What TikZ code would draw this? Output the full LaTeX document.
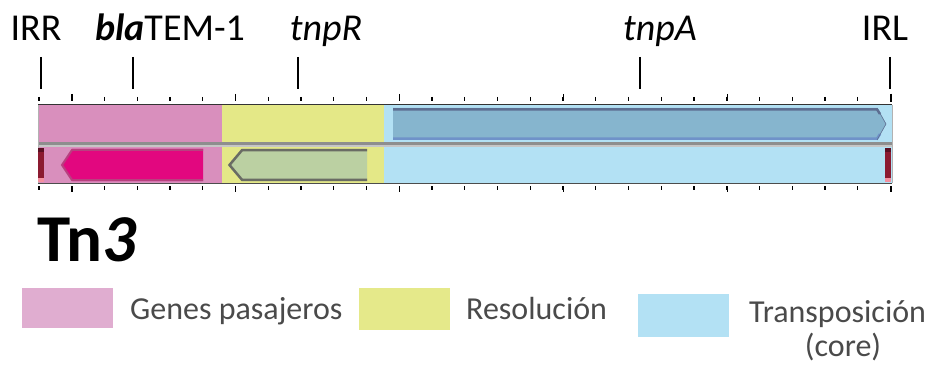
\documentclass[tikz,border=0pt]{standalone}
\usepackage{fontspec}
\setmainfont{Carlito}
\definecolor{pinkreg}{HTML}{D98FBD}
\definecolor{yellreg}{HTML}{E4E887}
\definecolor{bluereg}{HTML}{B3E1F4}
\definecolor{tnpAcol}{HTML}{86B5CE}
\definecolor{tnpAtop}{HTML}{5D6E91}
\definecolor{tnpAbot}{HTML}{6F92C9}
\definecolor{blacol}{HTML}{E2077F}
\definecolor{blaedge}{HTML}{B8407F}
\definecolor{tnpRcol}{HTML}{BBD0A2}
\definecolor{tnpRedge}{HTML}{6A6C64}
\definecolor{sepgray}{HTML}{8E8E8E}
\definecolor{irdark}{HTML}{5A0F22}
\definecolor{irmid}{HTML}{8B1A30}
\definecolor{irpink}{HTML}{F4909F}
\definecolor{legpink}{HTML}{E0ADD0}
\definecolor{legyell}{HTML}{E5E98A}
\definecolor{legblue}{HTML}{B3E1F4}
\definecolor{legtext}{HTML}{4A4A4A}
\tikzset{
  toplabel/.style={anchor=base, inner sep=0pt, font=\fontsize{38}{42}\selectfont},
  legtxt/.style={anchor=base west, inner sep=0pt, text=legtext, font=\fontsize{32}{36}\selectfont},
  marker/.style={line width=1.2pt, black},
  minortick/.style={line width=1.4pt, black},
  majortick/.style={line width=1.6pt, black},
}
\begin{document}
\begin{tikzpicture}[x=1pt,y=-1pt]
\useasboundingbox (0,0) rectangle (933,366);
% top labels
\node[toplabel] (irr) at (36,41) {IRR};
\node[toplabel] (bla) at (170,41) {\textbf{\textit{bla}}TEM-1};
\node[toplabel] (tnpr) at (326,41) {\textit{tnpR}};
\node[toplabel] (tnpa) at (660,41) {\textit{tnpA}};
\node[toplabel] (irl) at (885,41) {IRL};
% marker lines
\foreach \x/\n in {41/a,133/b,298/c,640/d,890/e}{
  \coordinate (m\n1) at (\x,57);
  \coordinate (m\n2) at (\x,89);
  \draw[marker] (m\n1) -- (m\n2);
}
% ruler ticks
\foreach \i in {0,...,26}{
  \pgfmathsetmacro{\xx}{39+32.75*\i}
  \draw[minortick] (\xx,97) -- (\xx,101);
  \draw[minortick] (\xx,186) -- (\xx,190);
}
\foreach \i in {0,...,5}{
  \pgfmathsetmacro{\xx}{71.7+163.9*\i}
  \draw[majortick] (\xx,94) -- (\xx,101);
  \draw[majortick] (\xx,186) -- (\xx,192);
}
\draw[line width=2.5pt] (891,94) -- (891,102);
\draw[line width=2.5pt] (891,186) -- (891,192);
% region backgrounds
\fill[pinkreg] (38,105) rectangle (222,183);
\fill[yellreg] (222,105) rectangle (384,183);
\fill[bluereg] (384,105) rectangle (892,183);
% separator
\fill[sepgray] (38,142) rectangle (892,145.5);
\fill[gray!45] (38,145.5) rectangle (892,147);
% bar outline
\draw[line width=1pt, black!80] (38,105) -- (892,105);
\draw[line width=1pt, black!70] (38,183) -- (892,183);
\draw[line width=0.6pt, gray!60] (38,105) -- (38,183);
\draw[line width=0.6pt, gray!60] (892,105) -- (892,183);
% tnpA arrow
\fill[tnpAcol] (393,108) -- (877,108) -- (886,124) -- (877,140) -- (393,140) -- cycle;
\draw[tnpAtop, line width=2.5pt] (393,109.3) -- (877,109.3) -- (880,114);
\draw[tnpAbot, line width=2.5pt] (393,138.7) -- (877,138.7) -- (880,134);
\draw[tnpAtop, line width=0.6pt] (877,108) -- (886,124) -- (877,140);
% bla arrow
\fill[blacol] (203,149) -- (72,149) -- (62,165) -- (72,181) -- (203,181) -- cycle;
\draw[blaedge, line width=2pt] (203,150) -- (72,150) -- (62,165) -- (72,180) -- (203,180);
% tnpR arrow
\fill[tnpRcol] (367,149) -- (242,149) -- (228,165) -- (242,181) -- (367,181) -- cycle;
\draw[tnpRedge, line width=2.5pt] (367,150.2) -- (242,150.2) -- (229.5,165) -- (242,179.8) -- (367,179.8);
% IR end boxes
\foreach \x/\n in {38/l,885/r}{
  \fill[irdark] (\x,148) rectangle ++(6,4);
  \fill[irmid] (\x,152) rectangle ++(6,26);
  \fill[irpink] (\x,178) rectangle ++(6,4);
}
% Tn3 title
\node[anchor=base west, inner sep=0pt, font=\fontsize{67}{72}\selectfont\bfseries] (title) at (37,261) {Tn\textit{3}};
% legend
\fill[legpink] (22,288) rectangle (113,328);
\node[legtxt] (leg1) at (130,319) {Genes pasajeros};
\fill[legyell] (359,288) rectangle (450,330);
\node[legtxt] (leg2) at (466,319) {Resolución};
\fill[legblue] (638,294) rectangle (729,337);
\node[legtxt] (leg3) at (749,322) {Transposición};
\node[anchor=base, inner sep=0pt, text=legtext, font=\fontsize{32}{36}\selectfont] (leg3b) at (843,356) {(core)};
\end{tikzpicture}
\end{document}
